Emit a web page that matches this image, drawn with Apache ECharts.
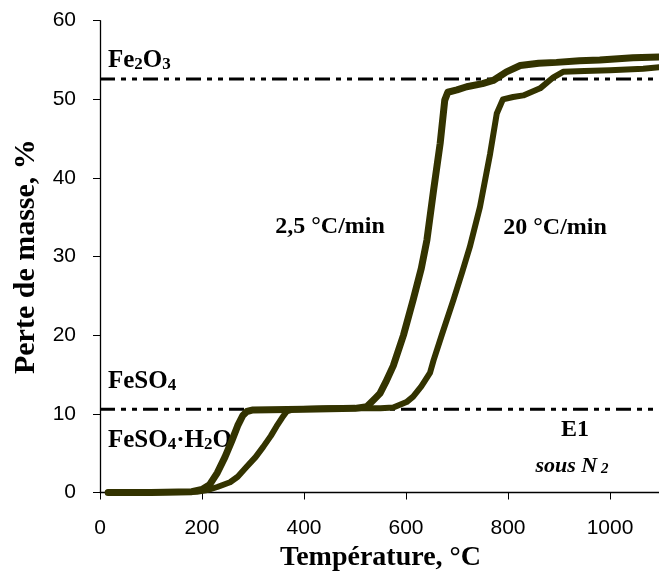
<!DOCTYPE html>
<html><head><meta charset="utf-8">
<script src="https://cdn.jsdelivr.net/npm/echarts@6/dist/echarts.min.js"></script>
<style>html,body{margin:0;padding:0;background:#fff}#c{width:659px;height:575px}</style>
</head><body><div id="c"></div>
<script>
// 2,5 °C/min (squares)
const temp25 = [16,100,180,200,215,230,245,258,270,280,288,300,400,500,523,540,549,560,575,595,614,630,641,654,667,676,682,700,719,750,771,797,824,860,895,940,980,1045,1100];
const loss25 = [0,0,0.1,0.4,1.0,2.5,4.5,6.5,8.5,9.8,10.3,10.5,10.6,10.7,10.9,12.0,12.6,14.0,16.1,20.0,24.5,28.5,32.1,38.4,44.4,49.9,50.9,51.2,51.6,52.0,52.4,53.5,54.3,54.6,54.7,54.9,55.0,55.3,55.4];
// 20 °C/min (circles)
const temp20 = [16,100,190,210,230,255,270,288,305,320,335,346,357,366,380,450,550,575,601,614,630,647,654,670,693,710,725,745,765,778,790,810,830,863,889,908,950,1000,1065,1100];
const loss20 = [0,0,0.1,0.3,0.7,1.3,2.0,3.3,4.5,5.8,7.2,8.4,9.5,10.3,10.6,10.7,10.7,10.8,11.5,12.2,13.5,15.2,16.8,20.0,24.5,28.0,31.2,36.3,43.1,48.2,50.0,50.3,50.5,51.4,52.8,53.5,53.6,53.7,53.9,54.1];
// reference levels: Fe2O3, FeSO4
const refLevels = [52.6, 10.6];
const xTicks = [0,200,400,600,800,1000];
const yTicks = [0,10,20,30,40,50,60];

const pair = (xs, ys) => xs.map((x, i) => [x, ys[i]]);
const olive = '#333300';
const serif = '"Liberation Serif","Times New Roman",serif';
const sans = '"Liberation Sans",Arial,sans-serif';
const rich = {
  a: {fontFamily: serif, fontWeight: 'bold', fontSize: 25, fill: '#000'},
  s: {fontFamily: serif, fontWeight: 'bold', fontSize: 17, fill: '#000', verticalAlign: 'bottom'}
};

const chart = echarts.init(document.getElementById('c'), null, {renderer: 'canvas'});
chart.setOption({
  animation: false,
  backgroundColor: '#fff',
  grid: {left: 100, top: 20.7, width: 561, height: 471.8, containLabel: false, outerBoundsMode: 'none'},
  xAxis: {
    type: 'value', min: 0, max: 1100, interval: 200,
    axisLine: {show: true, onZero: false, lineStyle: {color: '#000', width: 1.3}},
    axisTick: {show: true, length: 7, lineStyle: {color: '#000', width: 1}},
    axisLabel: {color: '#000', fontFamily: sans, fontSize: 21, margin: 25,
      formatter: v => xTicks.includes(v) ? String(v) : ''},
    splitLine: {show: false},
    name: 'Température, °C', nameLocation: 'middle', nameGap: 47,
    nameTextStyle: {color: '#000', fontFamily: serif, fontWeight: 'bold', fontSize: 28}
  },
  yAxis: {
    type: 'value', min: 0, max: 60, interval: 10,
    axisLine: {show: true, onZero: false, lineStyle: {color: '#000', width: 1.3}},
    axisTick: {show: true, length: 7, lineStyle: {color: '#000', width: 1}},
    axisLabel: {color: '#000', fontFamily: sans, fontSize: 21, margin: 24,
      formatter: v => yTicks.includes(v) ? String(v) : ''},
    splitLine: {show: false},
    name: 'Perte de masse, %', nameLocation: 'middle', nameGap: 54,
    nameTextStyle: {color: '#000', fontFamily: serif, fontWeight: 'bold', fontSize: 30}
  },
  series: [
    {type: 'line', data: [[0, refLevels[0]], [1100, refLevels[0]]], symbol: 'none', silent: true,
      lineStyle: {color: '#000', width: 3, type: [15, 6, 5, 6, 5, 6]}, z: 1},
    {type: 'line', data: [[0, refLevels[1]], [1100, refLevels[1]]], symbol: 'none', silent: true,
      lineStyle: {color: '#000', width: 3, type: [15, 6, 5, 6, 5, 6]}, z: 1},
    {type: 'line', name: '2,5 °C/min', data: pair(temp25, loss25), symbol: 'none',
      lineStyle: {color: olive, width: 7, join: 'round', cap: 'round'}, z: 3},
    {type: 'line', name: '20 °C/min', data: pair(temp20, loss20), symbol: 'none',
      lineStyle: {color: olive, width: 6, join: 'round', cap: 'round'}, z: 3}
  ],
  graphic: [
    {type: 'text', left: 108, top: 48, style: {text: '{a|Fe}{s|2}{a|O}{s|3}', rich}},
    {type: 'text', left: 108, top: 369, style: {text: '{a|FeSO}{s|4}', rich}},
    {type: 'text', left: 108, top: 428, style: {text: '{a|FeSO}{s|4}{a|·H}{s|2}{a|O}', rich}},
    {type: 'text', x: 330, y: 227, style: {text: '2,5 °C/min', fontFamily: serif, fontWeight: 'bold', fontSize: 24, fill: '#000', align: 'center', verticalAlign: 'middle'}},
    {type: 'text', x: 555, y: 228, style: {text: '20 °C/min', fontFamily: serif, fontWeight: 'bold', fontSize: 24, fill: '#000', align: 'center', verticalAlign: 'middle'}},
    {type: 'text', x: 575, y: 430, style: {text: 'E1', fontFamily: serif, fontWeight: 'bold', fontSize: 24, fill: '#000', align: 'center', verticalAlign: 'middle'}},
    {type: 'text', x: 572, y: 466, style: {text: '{i|sous N}{s| 2}', align: 'center', verticalAlign: 'middle', rich: {
      i: {fontFamily: serif, fontWeight: 'bold', fontStyle: 'italic', fontSize: 22, fill: '#000'},
      s: {fontFamily: serif, fontWeight: 'bold', fontStyle: 'italic', fontSize: 15, fill: '#000', verticalAlign: 'bottom'}}}}
  ]
});
</script></body></html>
